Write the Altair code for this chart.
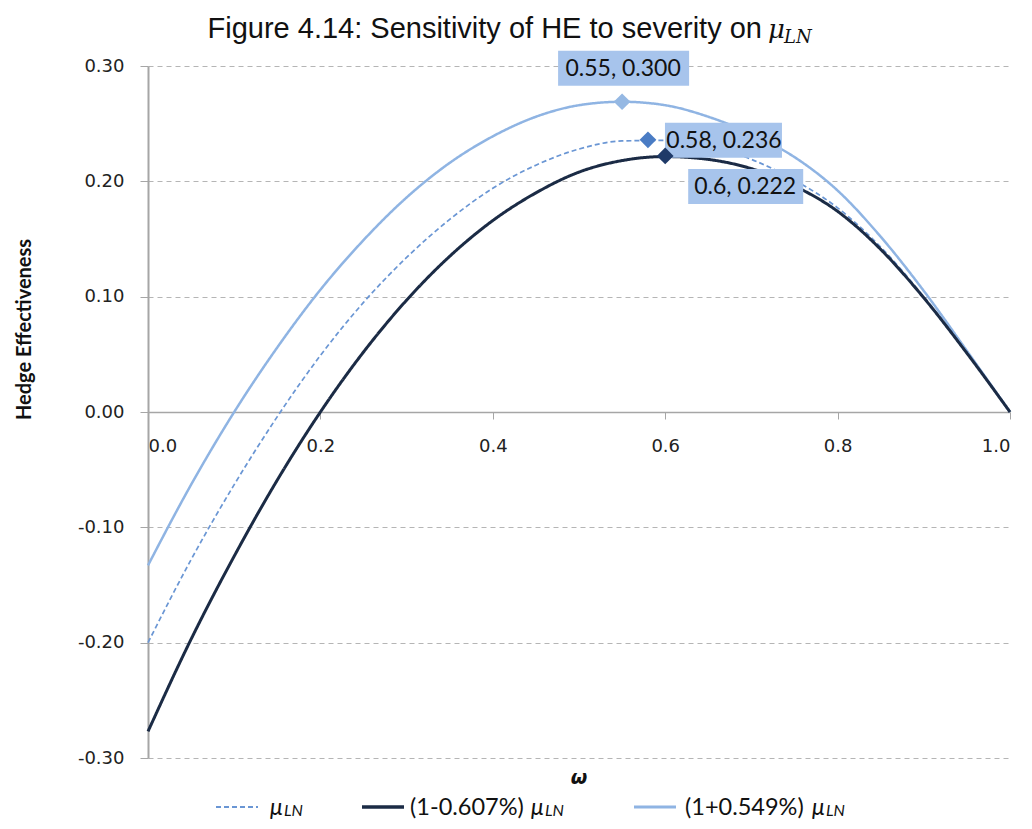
import altair as alt
import pandas as pd

# ---------------- data ----------------
omega = [0.00, 0.05, 0.10, 0.15, 0.20, 0.25, 0.30, 0.35, 0.40, 0.45, 0.50,
         0.55, 0.60, 0.65, 0.70, 0.75, 0.80, 0.85, 0.90, 0.95, 1.00]
he_base = [-0.200, -0.128, -0.063, -0.004, 0.049, 0.095, 0.134, 0.167, 0.194, 0.214, 0.228,
           0.235, 0.2355, 0.230, 0.219, 0.201, 0.177, 0.143, 0.100, 0.052, 0.000]
he_minus = [-0.277, -0.197, -0.125, -0.059, 0.000, 0.052, 0.097, 0.135, 0.166, 0.190, 0.208,
            0.218, 0.2215, 0.219, 0.211, 0.196, 0.174, 0.141, 0.099, 0.051, 0.000]
he_plus = [-0.133, -0.063, 0.000, 0.056, 0.106, 0.149, 0.186, 0.216, 0.239, 0.256, 0.266,
           0.269, 0.266, 0.256, 0.241, 0.221, 0.192, 0.152, 0.105, 0.053, 0.000]

series_names = ["base", "minus", "plus"]
legend_prefix = ["", "(1-0.607%) ", "(1+0.549%) "]

peak_omega = [0.58, 0.60, 0.55]
peak_he = [0.236, 0.222, 0.269]
peak_text = ["0.58, 0.236", "0.6, 0.222", "0.55, 0.300"]

y_ticks = [-0.30, -0.20, -0.10, 0.00, 0.10, 0.20, 0.30]
x_ticks = [0.0, 0.2, 0.4, 0.6, 0.8, 1.0]

title_text = "Figure 4.14: Sensitivity of HE to severity on"
x_title = "ω"
y_title = "Hedge Effectiveness"

# ---------------- styles ----------------
line_colors = {"base": "#6a96d4", "minus": "#1b2b45", "plus": "#8fb4e3"}
marker_colors = {"base": "#4a7cc4", "minus": "#1f3a68", "plus": "#95b8e3"}
line_widths = {"base": 1.7, "minus": 3.0, "plus": 2.5}
line_dash = {"base": [5, 3], "minus": [1, 0], "plus": [1, 0]}
box_color = "#a7c4ec"
W, H = 862, 692

rows = []
for name, vals in zip(series_names, [he_base, he_minus, he_plus]):
    for o, v in zip(omega, vals):
        rows.append({"series": name, "omega": o, "he": v})
df = pd.DataFrame(rows)
peaks = pd.DataFrame({"series": series_names, "omega": peak_omega, "he": peak_he, "label": peak_text})

x_scale = alt.Scale(domain=[0, 1], nice=False, zero=False)
y_scale = alt.Scale(domain=[-0.3, 0.3], nice=False, zero=False)

x_axis = alt.Axis(values=x_ticks, format=".1f", orient="bottom", offset=-H / 2, grid=False,
                  domainColor="#a6a6a6", domainWidth=1.5, tickColor="#a6a6a6", tickSize=7,
                  labelPadding=18, labelFont="DejaVu Sans", labelFontSize=18, labelColor="#222222",
                  title=None)
y_axis = alt.Axis(values=y_ticks, labelExpr="replace(format(datum.value, '.2f'), '\u2212', '-')",
                  grid=True, gridColor="#b5b5b5", gridDash=[5, 4],
                  gridWidth=1, domainColor="#a6a6a6", domainWidth=2, tickColor="#a6a6a6", tickSize=8,
                  labelPadding=16, labelFont="DejaVu Sans", labelFontSize=18, labelColor="#222222",
                  title=y_title, titleFont="Lato", titleFontWeight="bold", titleFontSize=20,
                  titleColor="#111111", titleX=-124, titleY=263, titleAngle=-90,
                  titleAlign="center", titleBaseline="middle")

X = alt.X("omega:Q", scale=x_scale, axis=x_axis)
Y = alt.Y("he:Q", scale=y_scale, axis=y_axis)

base = alt.Chart(df)
layers = []
for name in ["plus", "base", "minus"]:
    layers.append(
        base.transform_filter(alt.datum.series == name)
        .mark_line(interpolate="monotone", color=line_colors[name], strokeWidth=line_widths[name],
                   strokeDash=line_dash[name])
        .encode(x=X, y=Y)
    )

# label boxes and markers
box_offsets = {
    "plus": dict(xOffset=-64, x2Offset=67, yOffset=-51, y2Offset=-16, dx=1, dy=-33),
    "base": dict(xOffset=17, x2Offset=134, yOffset=-17, y2Offset=18, dx=76, dy=1),
    "minus": dict(xOffset=23, x2Offset=138, yOffset=13, y2Offset=48, dx=80, dy=31),
}
pbase = alt.Chart(peaks)
for name in ["plus", "base", "minus"]:
    o = box_offsets[name]
    sel = pbase.transform_filter(alt.datum.series == name)
    layers.append(
        sel.mark_rect(color=box_color, xOffset=o["xOffset"], x2Offset=o["x2Offset"],
                      yOffset=o["yOffset"], y2Offset=o["y2Offset"])
        .encode(x=X, x2="omega", y=Y, y2="he")
    )
for name in ["plus", "base", "minus"]:
    o = box_offsets[name]
    sel = pbase.transform_filter(alt.datum.series == name)
    layers.append(
        sel.mark_text(font="Lato", fontSize=23, color="#111111", align="center", baseline="middle",
                      dx=o["dx"], dy=o["dy"])
        .encode(x=X, y=Y, text="label:N")
    )
    layers.append(
        sel.mark_point(shape="diamond", filled=True, size=280, opacity=1, color=marker_colors[name])
        .encode(x=X, y=Y)
    )


def txt(s, x, y, **kw):
    return alt.Chart(pd.DataFrame({"t": [s]})).mark_text(**kw).encode(
        x=alt.value(x), y=alt.value(y), text="t:N")


# title (with math-style subscript)
layers.append(txt(title_text, 614, -28, font="Liberation Sans", fontSize=29, align="right",
                  baseline="alphabetic", color="#111111"))
layers.append(txt("μ", 620, -28, font="DejaVu Serif", fontStyle="italic", fontSize=26, align="left",
                  baseline="alphabetic", color="#111111"))
layers.append(txt("LN", 636, -23, font="DejaVu Serif", fontStyle="italic", fontSize=18, align="left",
                  baseline="alphabetic", color="#111111"))

# x-axis title
layers.append(txt(x_title, 431, 712, font="DejaVu Sans", fontStyle="italic", fontWeight="bold",
                  fontSize=19, align="center", baseline="middle", color="#111111"))

# custom legend
leg_y = 741
leg_items = [
    ("base", 68, 110, 122, 122, 136),
    ("minus", 214, 256, 262, 383, 397),
    ("plus", 486, 528, 537, 664, 678),
]
for (name, sx1, sx2, tx, mx, lx), prefix in zip(leg_items, legend_prefix):
    layers.append(
        alt.Chart(pd.DataFrame({"a": [0]})).mark_rule(
            color=line_colors[name], strokeWidth=line_widths[name] + 0.5, strokeDash=line_dash[name])
        .encode(x=alt.value(sx1), x2=alt.value(sx2), y=alt.value(leg_y))
    )
    if prefix:
        layers.append(txt(prefix.strip(), tx, leg_y + 8, font="Lato", fontSize=23.5, align="left",
                          baseline="alphabetic", color="#111111"))
    layers.append(txt("μ", mx, leg_y + 8, font="Lato", fontStyle="italic", fontSize=23, align="left",
                      baseline="alphabetic", color="#111111"))
    layers.append(txt("LN", lx, leg_y + 9, font="Lato", fontStyle="italic", fontSize=16, align="left",
                      baseline="alphabetic", color="#111111"))

chart = alt.layer(*layers).properties(
    width=W, height=H,
    autosize=alt.AutoSizeParams(type="none"),
    padding={"left": 140, "top": 58, "right": 14, "bottom": 63},
    background="white",
).configure_view(stroke=None)

chart.save("out.html", embed_options={"renderer": "svg", "actions": False})
